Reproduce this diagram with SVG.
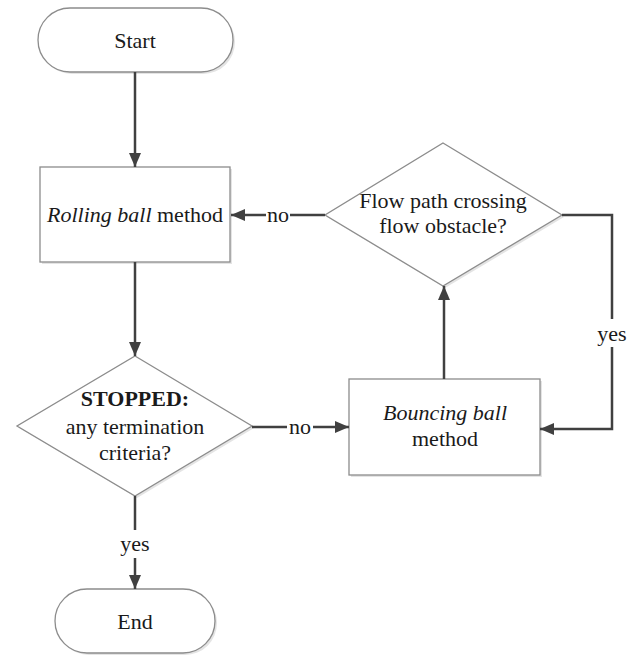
<svg xmlns="http://www.w3.org/2000/svg" width="635" height="655" viewBox="0 0 635 655">
<defs>
<style>
.shape{fill:#ffffff;stroke:#8c8c8c;stroke-width:1.3}
.shadow{fill:#e4e4e4;stroke:none}
.conn{fill:none;stroke:#404040;stroke-width:2.5}
text{font-family:"Liberation Serif","Times New Roman",serif;font-size:22px;fill:#1a1a1a;text-anchor:middle}
.it{font-style:italic}
.b{font-weight:bold}
</style>
<marker id="ah" markerWidth="14" markerHeight="12" refX="14" refY="6" orient="auto" markerUnits="userSpaceOnUse">
<path d="M0,0 L14,6 L0,12 Z" fill="#404040"/>
</marker>
</defs>
<rect width="635" height="655" fill="#ffffff"/>

<g id="start">
<rect class="shadow" x="40" y="10" width="195" height="64" rx="32"/>
<rect class="shape" x="38" y="8" width="195" height="64" rx="32"/>
<text x="135" y="48">Start</text>
</g>

<g id="rolling">
<rect class="shadow" x="42" y="169" width="190" height="95"/>
<rect class="shape" x="40" y="167" width="190" height="95"/>
<text x="135" y="222"><tspan class="it">Rolling ball</tspan> method</text>
</g>

<g id="flowcheck">
<polygon class="shadow" points="445,145 564,217 445,288 327,217"/>
<polygon class="shape" points="443,143 562,215 443,286 325,215"/>
<text x="443" y="208">Flow path crossing</text>
<text x="443" y="233">flow obstacle?</text>
</g>

<g id="stopped">
<polygon class="shadow" points="137,358 254,428 137,498 19,428"/>
<polygon class="shape" points="135,356 252,426 135,496 17,426"/>
<text class="b" x="135" y="406">STOPPED:</text>
<text x="135" y="434">any termination</text>
<text x="135" y="460">criteria?</text>
</g>

<g id="bouncing">
<rect class="shadow" x="351" y="381" width="191" height="96"/>
<rect class="shape" x="349" y="379" width="191" height="96"/>
<text class="it" x="445" y="420">Bouncing ball</text>
<text x="445" y="446">method</text>
</g>

<g id="end">
<rect class="shadow" x="57" y="591" width="160" height="64" rx="32"/>
<rect class="shape" x="55" y="589" width="160" height="64" rx="32"/>
<text x="135" y="629">End</text>
</g>

<g id="connectors">
<line class="conn" x1="135" y1="72" x2="135" y2="167" marker-end="url(#ah)"/>
<line class="conn" x1="135" y1="262" x2="135" y2="356" marker-end="url(#ah)"/>
<line class="conn" x1="325" y1="215" x2="290" y2="215"/>
<line class="conn" x1="266" y1="215" x2="231" y2="215" marker-end="url(#ah)"/>
<text x="278" y="222">no</text>
<line class="conn" x1="252" y1="427" x2="287" y2="427"/>
<line class="conn" x1="313" y1="427" x2="349" y2="427" marker-end="url(#ah)"/>
<text x="300" y="434">no</text>
<line class="conn" x1="444" y1="379" x2="444" y2="286" marker-end="url(#ah)"/>
<polyline class="conn" points="562,215 612,215 612,319"/>
<polyline class="conn" points="612,347 612,429 540,429" marker-end="url(#ah)"/>
<text x="612" y="341">yes</text>
<line class="conn" x1="135" y1="496" x2="135" y2="530"/>
<line class="conn" x1="135" y1="558" x2="135" y2="589" marker-end="url(#ah)"/>
<text x="135" y="551">yes</text>
</g>
</svg>
